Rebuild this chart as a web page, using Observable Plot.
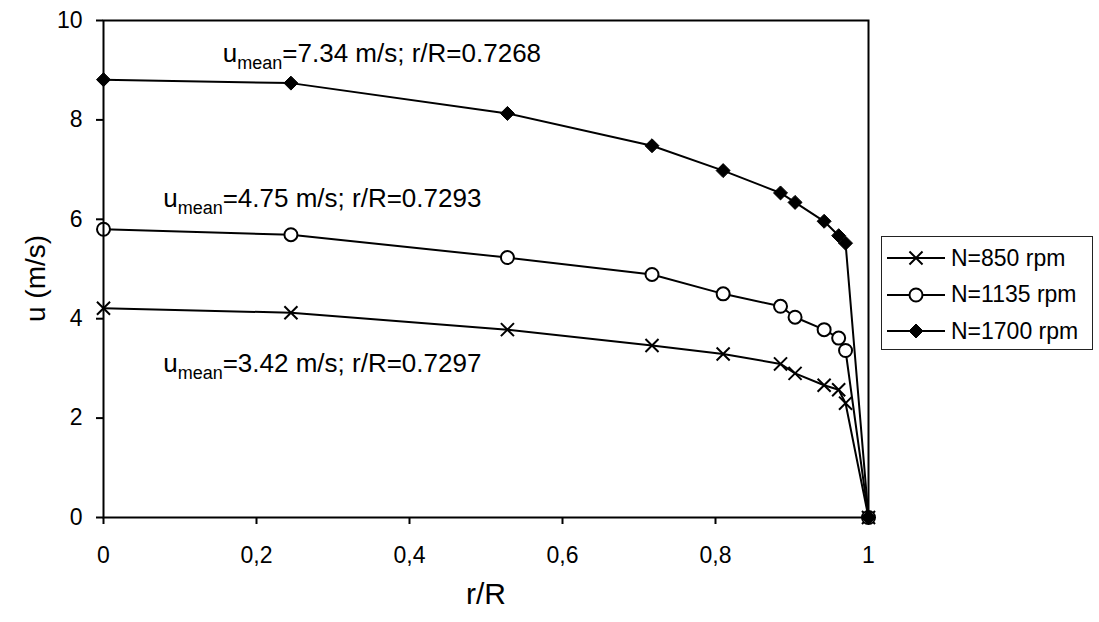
<!DOCTYPE html>
<html><head><meta charset="utf-8">
<script src="https://cdn.jsdelivr.net/npm/d3@7"></script>
<script src="https://cdn.jsdelivr.net/npm/@observablehq/plot@0.6"></script>
<style>
html,body{margin:0;padding:0;background:#fff;}
#wrap{position:relative;width:1099px;height:622px;font-family:"Liberation Sans",Arial,sans-serif;}
#legend{position:absolute;left:881px;top:236px;width:212px;height:114px;border:1.5px solid #222;box-sizing:border-box;background:#fff;padding-top:3px;}
.row{display:flex;align-items:center;height:36.5px;}
.row svg{margin-left:5px;}
.row span{font-size:23px;margin-left:6px;color:#000;}
</style></head><body><div id="wrap"><div id="legend"></div></div>
<script>
// r/R positions of the measurement points
const rR = [0, 0.245, 0.528, 0.717, 0.81, 0.885, 0.904, 0.942, 0.961, 0.970, 1];
// velocity u (m/s) per series
const u850  = [4.21, 4.12, 3.78, 3.46, 3.29, 3.09, 2.90, 2.66, 2.57, 2.30, 0];
const u1135 = [5.80, 5.69, 5.23, 4.89, 4.50, 4.25, 4.03, 3.78, 3.61, 3.36, 0];
const u1700 = [8.81, 8.74, 8.13, 7.48, 6.98, 6.53, 6.34, 5.96, 5.67, 5.52, 0];
const series = ["N=850 rpm", "N=1135 rpm", "N=1700 rpm"];
const symbols = ["times", "circle", "diamond2"];
// tick labels
const xTicks = [0, 0.2, 0.4, 0.6, 0.8, 1];
const xTickLabels = ["0", "0,2", "0,4", "0,6", "0,8", "1"];
const yTicks = [0, 2, 4, 6, 8, 10];
// annotations
const annoText = ["u_mean=3.42 m/s; r/R=0.7297", "u_mean=4.75 m/s; r/R=0.7293", "u_mean=7.34 m/s; r/R=0.7268"];
const annoR = [0.078, 0.078, 0.156];
const annoU = [2.92, 6.24, 9.16];

const values = [u850, u1135, u1700];
const rows = [];
series.forEach((s, i) => rR.forEach((x, j) => rows.push({series: s, r: x, u: values[i][j]})));
const annos = annoText.map((t, i) => ({text: t, r: annoR[i], u: annoU[i]}));

const symR = {"times": 6, "circle": 6.5, "diamond2": 6.3};
const symFill = {"times": "none", "circle": "white", "diamond2": "black"};
const symOf = s => symbols[series.indexOf(s)];

const font = '"Liberation Sans", Arial, sans-serif';
const plot = Plot.plot({
  width: 1099, height: 622,
  marginLeft: 103, marginRight: 231, marginTop: 20, marginBottom: 105,
  style: {fontFamily: font, fontSize: "23px", background: "white", color: "black", overflow: "visible"},
  x: {domain: [0, 1]},
  y: {domain: [0, 10]},
  symbol: {domain: series, range: symbols},
  marks: [
    Plot.line(rows, {x: "r", y: "u", z: "series", stroke: "black", strokeWidth: 2}),
    ...series.map(s => Plot.dot(rows.filter(d => d.series === s), {
      x: "r", y: "u", symbol: () => symOf(s), r: symR[symOf(s)],
      stroke: "black", strokeWidth: symOf(s) === "diamond2" ? 1 : 2, fill: symFill[symOf(s)]
    })),
    Plot.frame({stroke: "black", strokeWidth: 2}),
    Plot.axisX({ticks: xTicks, tickFormat: d => xTickLabels[xTicks.indexOf(d)], tickSize: 7, tickPadding: 22, strokeWidth: 2, fontSize: 23, label: null}),
    Plot.axisY({ticks: yTicks, tickSize: 7, tickPadding: 14, strokeWidth: 2, fontSize: 23, label: null}),
    Plot.text(["r/R"], {text: d => d, frameAnchor: "bottom", dy: 86, lineAnchor: "bottom", fontSize: 30}),
    Plot.text(["u (m/s)"], {text: d => d, frameAnchor: "left", dx: -59, dy: 53, rotate: -90, lineAnchor: "bottom", fontSize: 28}),
    Plot.text(annos, {x: "r", y: "u", text: "text", textAnchor: "start", lineAnchor: "bottom", fontSize: 26})
  ]
});

// subscript "mean" in the annotations
plot.querySelectorAll("text").forEach(t => {
  const s = t.textContent;
  if (s.startsWith("u_mean")) {
    const rest = s.slice(6);
    t.textContent = "";
    const ns = "http://www.w3.org/2000/svg";
    const a = document.createElementNS(ns, "tspan"); a.textContent = "u"; t.appendChild(a);
    const b = document.createElementNS(ns, "tspan"); b.textContent = "mean"; b.setAttribute("font-size", "18"); b.setAttribute("dy", "7"); t.appendChild(b);
    const c = document.createElementNS(ns, "tspan"); c.textContent = rest; c.setAttribute("dy", "-7"); t.appendChild(c);
  }
});
document.getElementById("wrap").prepend(plot);

// legend
const legend = document.getElementById("legend");
series.forEach((s, i) => {
  const row = document.createElement("div"); row.className = "row";
  const svg = d3.create("svg").attr("width", 58).attr("height", 20);
  svg.append("line").attr("x1", 0).attr("x2", 58).attr("y1", 10).attr("y2", 10).attr("stroke", "black").attr("stroke-width", 2);
  const sym = symbols[i];
  const typ = {times: d3.symbolTimes, circle: d3.symbolCircle, diamond2: d3.symbolDiamond2}[sym];
  svg.append("path").attr("transform", "translate(29,10)")
    .attr("d", d3.symbol(typ, Math.PI * symR[sym] * symR[sym])())
    .attr("fill", symFill[sym]).attr("stroke", "black").attr("stroke-width", sym === "diamond2" ? 1 : 2);
  row.appendChild(svg.node());
  const sp = document.createElement("span"); sp.textContent = s; row.appendChild(sp);
  legend.appendChild(row);
});
</script></body></html>
